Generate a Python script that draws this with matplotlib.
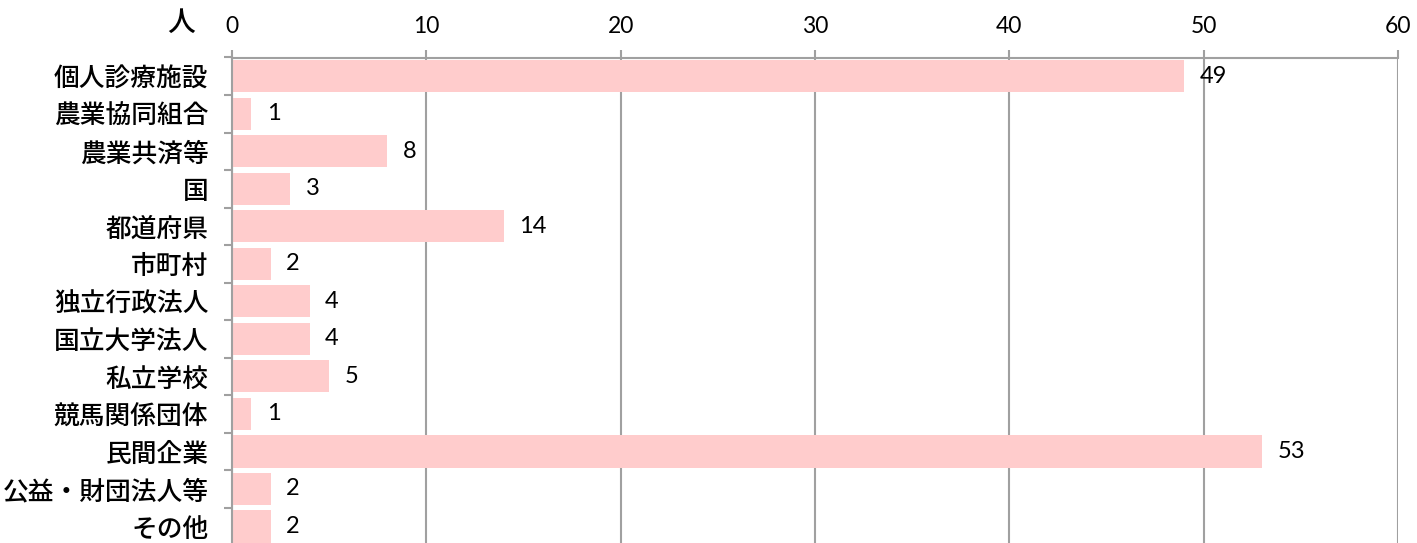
import numpy as np
import matplotlib.pyplot as plt

categories = ['個人診療施設', '農業協同組合', '農業共済等', '国', '都道府県', '市町村',
              '独立行政法人', '国立大学法人', '私立学校', '競馬関係団体', '民間企業',
              '公益・財団法人等', 'その他']
values = [49, 1, 8, 3, 14, 2, 4, 4, 5, 1, 53, 2, 2]
xticks = [0, 10, 20, 30, 40, 50, 60]

jp = ['Noto Sans CJK JP', 'DejaVu Sans']
num = ['Lato', 'Noto Sans CJK JP', 'DejaVu Sans']
grid_c = '#a0a0a0'
bar_c = '#ffcccc'

plt.rcParams['font.family'] = jp

fig = plt.figure(figsize=(14.17, 5.43), dpi=100)
ax = fig.add_axes([232/1417, -0.004, 1166/1417, 1 - 57.5/543 + 0.004])

y = np.arange(len(categories))
ax.barh(y, values, height=0.86, color=bar_c, zorder=2)
for yi, v in zip(y, values):
    ax.annotate(str(v), (v, yi), xytext=(11, 0), textcoords='offset points',
                va='center', ha='left', fontsize=17, family=num, zorder=3)

ax.set_xlim(0, 60)
ax.set_ylim(len(categories) - 0.5, -0.5)
ax.xaxis.tick_top()
ax.set_xticks(xticks)
ax.set_xticklabels([str(t) for t in xticks], family=num, fontsize=16.5)
ax.tick_params(axis='x', direction='out', length=6, width=1.5, color=grid_c, pad=9)
ax.grid(axis='x', color=grid_c, linewidth=1.5, zorder=1)

ax.set_yticks(y)
ax.set_yticklabels(categories, fontsize=18.5, weight='medium')
ax.set_yticks(np.arange(len(categories) + 1) - 0.5, minor=True)
ax.tick_params(axis='y', which='major', length=0, pad=17)
ax.tick_params(axis='y', which='minor', length=6, width=1.5, color=grid_c)

for s in ['bottom', 'right']:
    ax.spines[s].set_visible(False)
for s in ['top', 'left']:
    ax.spines[s].set_color(grid_c)
    ax.spines[s].set_linewidth(1.5)

fig.text(181/1417, 1 - 22/543, '人', fontsize=20, weight='medium', ha='center', va='center')

fig.savefig('out.png', dpi=100)
